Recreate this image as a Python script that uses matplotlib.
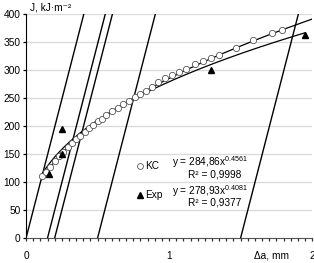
import numpy as np
import matplotlib
matplotlib.use("Agg")
import matplotlib.pyplot as plt

plt.rcParams['font.family'] = ['Liberation Sans', 'DejaVu Sans']
plt.rcParams['mathtext.fontset'] = 'custom'
plt.rcParams['mathtext.rm'] = 'Liberation Sans'

# KC data (Δa, mm ; J, kJ/m2)
kc_x = [0.11, 0.14, 0.17, 0.20, 0.23, 0.26, 0.29, 0.32, 0.35, 0.38, 0.41, 0.44,
        0.47, 0.50, 0.53, 0.56, 0.60, 0.64, 0.68, 0.72, 0.76, 0.80, 0.84, 0.88,
        0.925, 0.97, 1.02, 1.07, 1.12, 1.18, 1.24, 1.29, 1.35, 1.47, 1.59, 1.72, 1.79]
kc_y = [110, 117, 127, 137, 146, 154, 162, 169, 176, 183, 190, 196,
        202, 208, 213, 219, 226, 232, 239, 245, 251, 257, 263, 270,
        278, 285, 291, 297, 302, 310, 316, 321, 327, 339, 353, 366, 372]

# Experimental data
exp_x = [0.16, 0.25, 0.25, 1.29, 1.95]
exp_y = [114, 150, 195, 300, 362]

# Power fits y = a*x^b
kc_fit = (284.86, 0.4561, 0.11, 2.0)
exp_fit = (278.93, 0.4081, 0.12, 1.95)

# Blunting / offset lines: intercepts on Δa axis and slope
line_offsets = [0.0, 0.15, 0.2, 0.5, 1.5]
line_slope = 990.0

fig = plt.figure(figsize=(3.14, 2.63), dpi=100)
ax = fig.add_axes([0.083, 0.095, 0.911, 0.852])

ax.set_xlim(0, 2)
ax.set_ylim(0, 400)

for yv in range(50, 401, 50):
    ax.axhline(yv, color='#d9d9d9', lw=0.9, zorder=0)

for off in line_offsets:
    xs = np.array([off, off + 400.0 / line_slope])
    ax.plot(xs, (xs - off) * line_slope, color='black', lw=1.0, zorder=2)

for a, b, x0, x1 in [kc_fit, exp_fit]:
    xs = np.linspace(x0, x1, 200)
    ax.plot(xs, a * xs ** b, color='black', lw=0.9, zorder=3)

ax.plot(kc_x, kc_y, linestyle='none', marker='o', ms=4.5, mfc='white',
        mec='#555555', mew=0.6, zorder=4, label='KC')
ax.plot(exp_x, exp_y, linestyle='none', marker='^', ms=4.8, mfc='black',
        mec='black', zorder=5, label='Exp')

ax.spines['top'].set_visible(False)
ax.spines['right'].set_visible(False)
ax.spines['left'].set_linewidth(0.8)
ax.spines['bottom'].set_linewidth(0.8)
ax.spines['bottom'].set_color('#555555')

yticks = np.arange(0, 401, 50)
xminor = np.arange(0, 2.001, 0.05)
ax.set_yticks(yticks)
ax.set_xticks([0, 1, 2])
ax.tick_params(axis='y', length=0, labelsize=7.3, pad=4)
ax.tick_params(axis='x', length=0, labelsize=7.3, pad=9)

# explicit tick marks
ax.vlines(xminor, -0.013, 0, transform=ax.get_xaxis_transform(),
          colors='#333333', lw=0.9, clip_on=False, zorder=6)
ax.hlines(yticks, -0.011, 0, transform=ax.get_yaxis_transform(),
          colors='black', lw=0.9, clip_on=False, zorder=6)

fs = 7.3
sup = r'$^{\mathregular{%s}}$'
ax.plot(0.795, 128, marker='o', ms=4.2, mfc='white', mec='#555555', mew=0.6, clip_on=False)
ax.text(0.83, 128, 'KC', fontsize=fs, va='center', ha='left')
ax.text(1.02, 135, 'y = 284,86x' + sup % '0.4561', fontsize=fs, va='center', ha='left')
ax.text(1.13, 114, 'R² = 0,9998', fontsize=fs, va='center', ha='left')
ax.plot(0.795, 77, marker='^', ms=4.2, mfc='black', mec='black', clip_on=False)
ax.text(0.83, 77, 'Exp', fontsize=fs, va='center', ha='left')
ax.text(1.02, 84, 'y = 278,93x' + sup % '0.4081', fontsize=fs, va='center', ha='left')
ax.text(1.13, 63, 'R² = 0,9377', fontsize=fs, va='center', ha='left')

fig.text(30/314, 1 - 7/263, 'J, kJ·m⁻²', fontsize=fs, va='center', ha='left')
fig.text(272/314, 1 - 256/263, 'Δa, mm', fontsize=fs, va='center', ha='center')

fig.savefig('out.png', dpi=100)
